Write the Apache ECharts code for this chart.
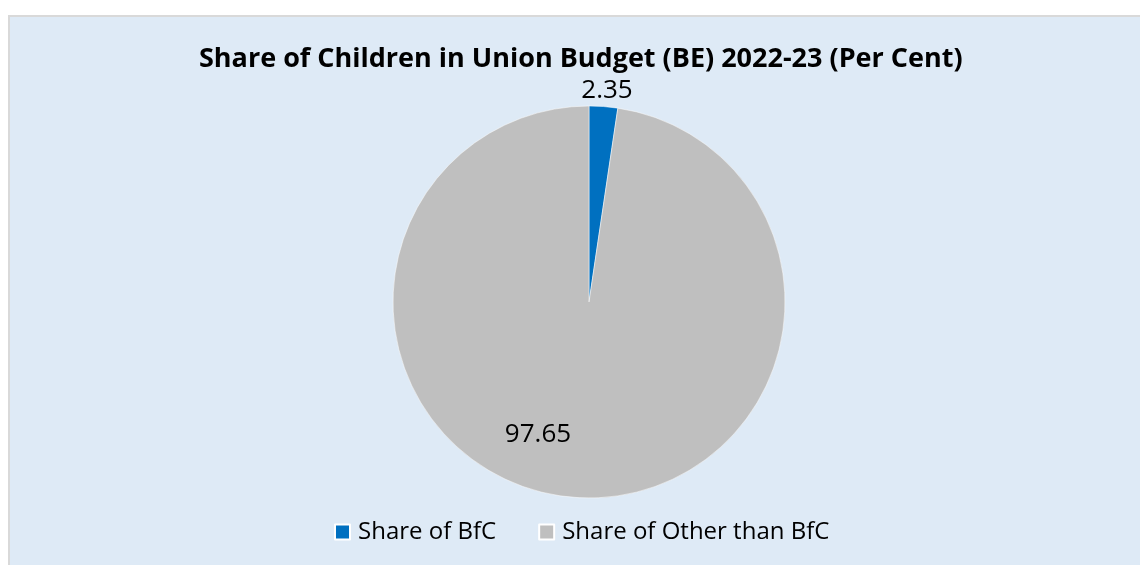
<!DOCTYPE html>
<html>
<head>
<meta charset="utf-8">
<script src="https://cdn.jsdelivr.net/npm/echarts@6/dist/echarts.min.js"></script>
<style>
html,body{margin:0;padding:0;background:#ffffff;}
#chart{width:1140px;height:565px;}
</style>
</head>
<body>
<div id="chart"></div>
<script>
const titleText = 'Share of Children in Union Budget (BE) 2022-23 (Per Cent)';
const categories = ['Share of BfC', 'Share of Other than BfC'];
const values = [2.35, 97.65];
const colors = ['#0070C0', '#BFBFBF'];

const chart = echarts.init(document.getElementById('chart'), null, {renderer: 'canvas'});
const FONT = '"Open Sans", "Noto Sans", sans-serif';
const CX = 589, CY = 302, R = 196;
// label anchor offsets relative to pie centre
const labelOffsets = [[18, -211], [-51, 133]];

chart.setOption({
  animation: false,
  backgroundColor: '#ffffff',
  graphic: [{
    type: 'rect', silent: true, z: -10,
    shape: {x: 9, y: 16, width: 1140, height: 560},
    style: {fill: '#DEEAF6', stroke: '#D9D9D9', lineWidth: 2}
  }],
  title: {
    text: titleText,
    left: 194, top: 41,
    textStyle: {fontFamily: FONT, fontWeight: 'bold', fontSize: 27, color: '#000000'}
  },
  legend: {
    data: categories,
    bottom: 16, left: 329,
    itemWidth: 15, itemHeight: 15, itemGap: 42,
    icon: 'rect',
    textStyle: {fontFamily: FONT, fontSize: 24, color: '#000000', padding: [0,0,0,3]}
  },
  series: [{
    type: 'pie',
    center: [CX, CY],
    radius: [0, R],
    startAngle: 90,
    clockwise: true,
    avoidLabelOverlap: false,
    data: categories.map((c, i) => ({name: c, value: values[i], itemStyle: {color: colors[i]}})),
    itemStyle: {borderColor: '#ffffff', borderWidth: 0.5},
    label: {
      show: true,
      formatter: p => p.value.toFixed(2),
      fontFamily: FONT, fontSize: 26, color: '#000000'
    },
    labelLine: {show: false},
    labelLayout: function (p) {
      const o = labelOffsets[p.dataIndex];
      return {x: CX + o[0], y: CY + o[1], align: 'center', verticalAlign: 'middle'};
    }
  }]
});
</script>
</body>
</html>
